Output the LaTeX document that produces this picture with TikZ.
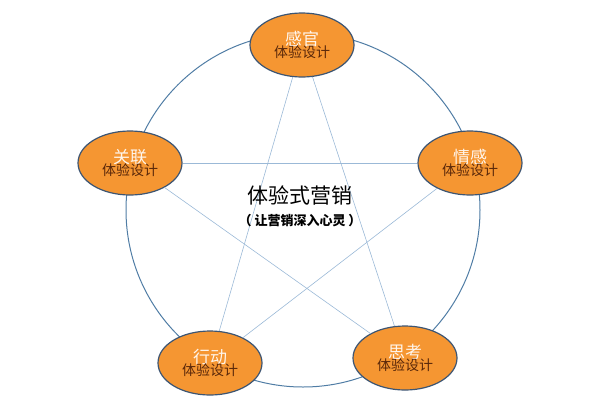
\documentclass[tikz,border=0pt]{standalone}
\usepackage{fontspec}
\usetikzlibrary{shapes.geometric}
\newfontfamily\cjk{Noto Sans CJK SC}
\newfontfamily\cjkm{Noto Sans CJK SC Medium}
\begin{document}
\begin{tikzpicture}[x=1pt,y=-1pt,
 pnode/.style={ellipse,draw=nb,line width=1.2pt,fill=ob,minimum width=104pt,minimum height=64pt,inner sep=0pt,align=center,font=\cjk},
 link/.style={draw=lk,line width=0.6pt}]
\useasboundingbox (0,0) rectangle (600,400);
\definecolor{ob}{RGB}{245,150,50}
\definecolor{tb}{RGB}{90,40,10}
\definecolor{nb}{RGB}{60,85,115}
\definecolor{cb}{RGB}{80,125,165}
\definecolor{lk}{RGB}{155,185,215}
\draw[draw=cb,line width=1pt] (303,210) circle (177);
\node[pnode] (t) at (302,45) {{\color{white!92!orange}\fontsize{17}{19}\selectfont 感官}\\[-2pt]{\color{tb}\fontsize{14}{16}\selectfont 体验设计}};
\node[pnode] (l) at (130,163) {{\color{white!92!orange}\fontsize{17}{19}\selectfont 关联}\\[-2pt]{\color{tb}\fontsize{14}{16}\selectfont 体验设计}};
\node[pnode] (r) at (470,163) {{\color{white!92!orange}\fontsize{17}{19}\selectfont 情感}\\[-2pt]{\color{tb}\fontsize{14}{16}\selectfont 体验设计}};
\node[pnode] (bl) at (210,363) {{\color{white!92!orange}\fontsize{17}{19}\selectfont 行动}\\[-2pt]{\color{tb}\fontsize{14}{16}\selectfont 体验设计}};
\node[pnode] (br) at (405,358) {{\color{white!92!orange}\fontsize{17}{19}\selectfont 思考}\\[-2pt]{\color{tb}\fontsize{14}{16}\selectfont 体验设计}};
\path[link] (t) -- (bl);
\path[link] (t) -- (br);
\path[link] (l) -- (r);
\path[link] (l) -- (br);
\path[link] (r) -- (bl);
\node[font=\cjk\fontsize{21}{23}\selectfont] (c1) at (300,195) {体验式营销};
\node[font=\cjk\bfseries\fontsize{13}{15}\selectfont] (c2) at (300,221) {（ 让营销深入心灵 ）};
\end{tikzpicture}
\end{document}
